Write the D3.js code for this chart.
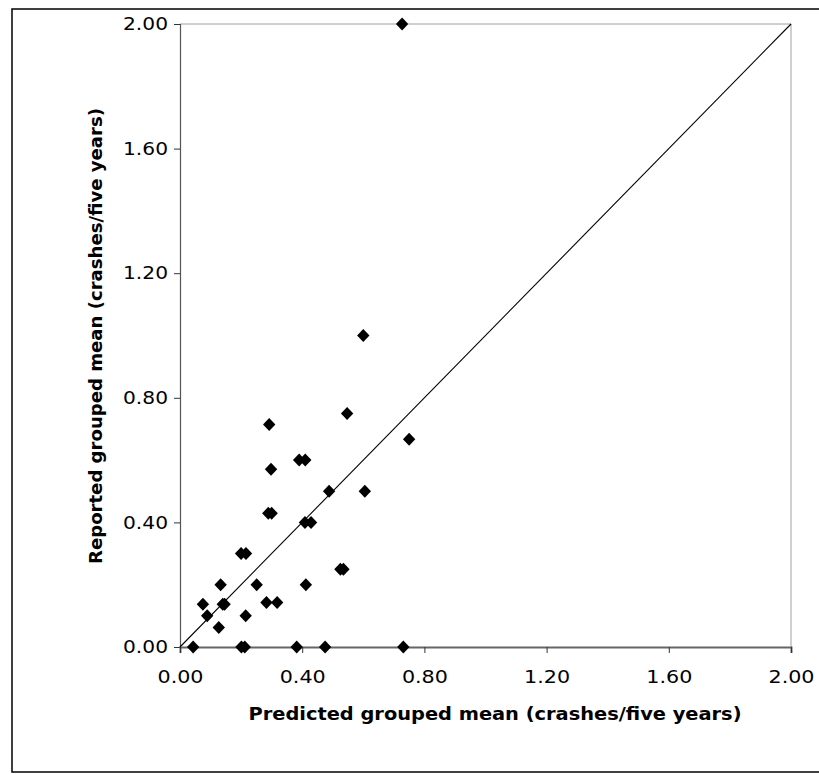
<!DOCTYPE html>
<html>
<head>
<meta charset="utf-8">
<script src="https://cdn.jsdelivr.net/npm/d3@7"></script>
<style>
  html, body { margin: 0; padding: 0; background: #fff; }
  svg { display: block; }
  text { font-family: Tahoma, Verdana, "DejaVu Sans", sans-serif; }
</style>
</head>
<body>
<svg id="chart" width="819" height="774"></svg>
<script>
// Predicted vs reported grouped means (crashes/five years)
const predicted = [
  0.727, 0.600, 0.547, 0.292, 0.750, 0.390, 0.410, 0.298, 0.488, 0.605,
  0.289, 0.300, 0.409, 0.429, 0.525, 0.535, 0.412, 0.251, 0.133, 0.075,
  0.140, 0.146, 0.283, 0.318, 0.089, 0.215, 0.127, 0.200, 0.216,
  0.043, 0.201, 0.212, 0.382, 0.475, 0.731
];
const reported = [
  2.000, 1.000, 0.750, 0.714, 0.667, 0.600, 0.600, 0.571, 0.500, 0.500,
  0.429, 0.429, 0.400, 0.400, 0.250, 0.250, 0.200, 0.200, 0.200, 0.137,
  0.137, 0.137, 0.143, 0.143, 0.100, 0.100, 0.0625, 0.300, 0.300,
  0.000, 0.000, 0.000, 0.000, 0.000, 0.000
];
// Line of equality
const equalityX = [0, 2];
const equalityY = [0, 2];
const tickValues = [0, 0.4, 0.8, 1.2, 1.6, 2.0];
const xTitle = "Predicted grouped mean (crashes/five years)";
const yTitle = "Reported grouped mean (crashes/five years)";

const svg = d3.select("#chart");
const fontStack = "Tahoma, Verdana, 'DejaVu Sans', sans-serif";

// Outer frame
svg.append("rect")
  .attr("x", 12).attr("y", 9).attr("width", 830).attr("height", 763)
  .attr("fill", "none").attr("stroke", "#000").attr("stroke-width", 1.5);

const plotLeft = 180, plotRight = 791, plotTop = 24, plotBottom = 647;
const x = d3.scaleLinear().domain([0, 2]).range([plotLeft, plotRight]);
const y = d3.scaleLinear().domain([0, 2]).range([plotBottom, plotTop]);

// Plot area border (top and right)
svg.append("path")
  .attr("d", `M${plotLeft},${plotTop}H${plotRight}V${plotBottom}`)
  .attr("fill", "none").attr("stroke", "#a0a0a0").attr("stroke-width", 1);

// Y axis
const yAxis = svg.append("g")
  .attr("transform", `translate(${plotLeft},0)`)
  .call(d3.axisLeft(y).tickValues(tickValues).tickFormat(d3.format(".2f")).tickSize(6).tickPadding(6));
yAxis.select(".domain").attr("stroke", "#555").attr("stroke-width", 1.2);
yAxis.selectAll(".tick line").attr("stroke", "#333");
yAxis.selectAll(".tick text").attr("font-size", 17.5).attr("fill", "#000")
  .attr("textLength", 45).attr("lengthAdjust", "spacingAndGlyphs")
  .style("font-family", fontStack);

// X axis
const xAxis = svg.append("g")
  .attr("transform", `translate(0,${plotBottom})`)
  .call(d3.axisBottom(x).tickValues(tickValues).tickFormat(d3.format(".2f")).tickSize(6).tickPadding(18));
xAxis.select(".domain").attr("stroke", "#666").attr("stroke-width", 2);
xAxis.selectAll(".tick line").attr("stroke", "#333");
xAxis.selectAll(".tick text").attr("font-size", 17.5).attr("fill", "#000")
  .attr("textLength", 46).attr("lengthAdjust", "spacingAndGlyphs")
  .style("font-family", fontStack);

// Equality line
const lineData = equalityX.map((v, i) => [v, equalityY[i]]);
svg.append("path")
  .datum(lineData)
  .attr("d", d3.line().x(d => x(d[0])).y(d => y(d[1])))
  .attr("fill", "none").attr("stroke", "#000").attr("stroke-width", 1.1);

// Data points as diamonds
const pts = predicted.map((p, i) => ({ p, r: reported[i] }));
svg.append("g").selectAll("path")
  .data(pts)
  .join("path")
  .attr("transform", d => `translate(${x(d.p)},${y(d.r)})`)
  .attr("d", "M0,-6.5L6.2,0L0,6.5L-6.2,0Z")
  .attr("fill", "#000");

// Axis titles
svg.append("text")
  .attr("x", 495).attr("y", 720)
  .attr("text-anchor", "middle")
  .attr("font-size", 17.5).attr("font-weight", "bold")
  .attr("textLength", 493).attr("lengthAdjust", "spacingAndGlyphs")
  .text(xTitle);

svg.append("text")
  .attr("transform", `translate(102,336) rotate(-90)`)
  .attr("text-anchor", "middle")
  .attr("font-size", 17.5).attr("font-weight", "bold")
  .attr("textLength", 456).attr("lengthAdjust", "spacingAndGlyphs")
  .text(yTitle);
</script>
</body>
</html>
